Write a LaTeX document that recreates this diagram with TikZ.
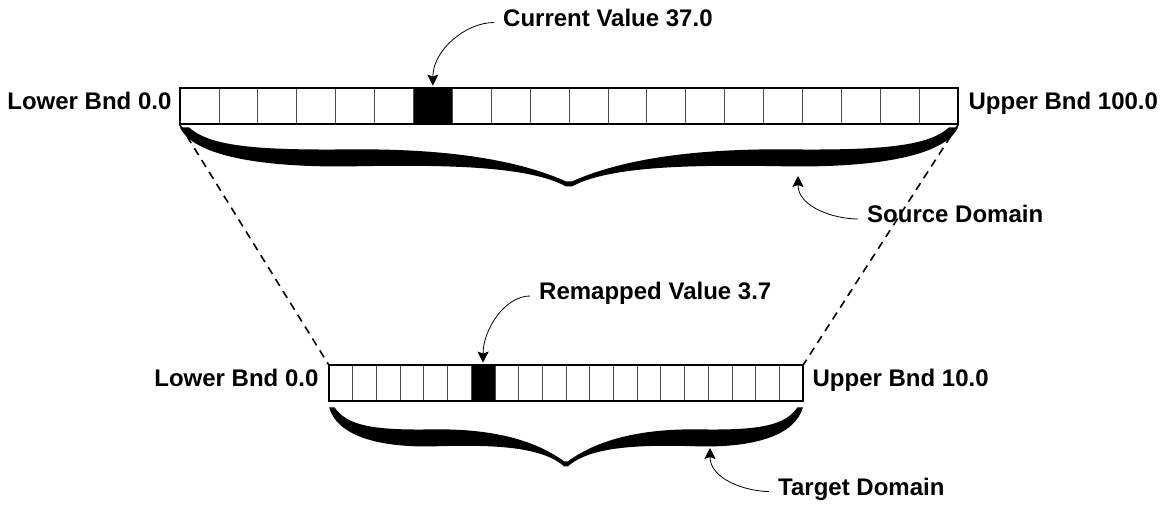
\documentclass[tikz,border=0pt]{standalone}
\usepackage{fontspec}
\setmainfont{Liberation Sans}
\usetikzlibrary{arrows.meta,positioning,calc}

\tikzset{
  cell/.style={draw=black!70, line width=0.8pt, fill=white,
    minimum height=36pt, inner sep=0pt},
  frame/.style={line width=2pt},
  lbl/.style={font=\bfseries\fontsize{24}{28}\selectfont, inner sep=0pt,
    text height=0.72em, text depth=0pt},
  note/.style={-{Stealth[length=11pt,width=11pt,inset=2pt]}, line width=0.8pt,
    shorten <=9pt},
  guide/.style={dashed, dash pattern=on 8pt off 6pt, line width=1.6pt},
  % thick curly brace, drawn for a half width of 389
  fatbrace/.pic={
    \fill (-389,-3) -- (-380,-3)
      .. controls (-360,-21) and (-318,-26) .. (-220,-25)
      .. controls (-120,-24) and (-50,-36) .. (-3,-57) -- (3,-57)
      .. controls (50,-36) and (120,-24) .. (220,-25)
      .. controls (318,-26) and (360,-21) .. (380,-3) -- (389,-3)
      .. controls (376,-31) and (310,-43) .. (220,-42)
      .. controls (120,-40) and (40,-42) .. (3,-62) -- (-3,-62)
      .. controls (-40,-42) and (-120,-40) .. (-220,-42)
      .. controls (-310,-43) and (-376,-31) .. (-389,-3) -- cycle;
  }
}

\begin{document}
\begin{tikzpicture}[x=1pt,y=1pt]
  \useasboundingbox (0,0) rectangle (1163,504);

  % source range
  \foreach \i in {0,...,19}{
    \ifnum\i=6 \def\cellfill{black}\else\def\cellfill{white}\fi
    \node[cell, minimum width=38.9pt, fill=\cellfill] (s\i) at ({180+38.9*(\i+0.5)},398) {};
  }
  \draw[frame] (s0.north west) rectangle (s19.south east);

  % target range
  \foreach \i in {0,...,19}{
    \ifnum\i=6 \def\cellfill{black}\else\def\cellfill{white}\fi
    \node[cell, minimum width=23.7pt, fill=\cellfill] (t\i) at ({329+23.7*(\i+0.5)},121) {};
  }
  \draw[frame] (t0.north west) rectangle (t19.south east);

  % bounds
  \node[lbl, left=8pt of s0] (slo) {Lower Bnd 0.0};
  \node[lbl, right=10pt of s19] (shi) {Upper Bnd 100.0};
  \node[lbl, left=10pt of t0] (tlo) {Lower Bnd 0.0};
  \node[lbl, right=9pt of t19] (thi) {Upper Bnd 10.0};

  % braces under the ranges
  \pic at ($(s0.south west)!0.5!(s19.south east)$) {fatbrace};
  \pic[xscale=0.609] at ($(t0.south west)!0.5!(t19.south east)+(0,-3)$) {fatbrace};

  \draw[guide] (s0.south west) -- (t0.north west);
  \draw[guide] (s19.south east) -- (t19.north east);

  % callouts
  \node[lbl, anchor=west] (cur) at (503,481.5) {Current Value 37.0};
  \node[lbl, anchor=west] (rem) at (539,208) {Remapped Value 3.7};
  \node[lbl, anchor=west] (src) at (867,285) {Source Domain};
  \node[lbl, anchor=west] (tgt) at (778,12.5) {Target Domain};
  \coordinate (srcpt) at (798,328);
  \coordinate (tgtpt) at (710,56);

  \draw[note, shorten >=2pt] (cur.west) to[out=180, in=90] (s6.north);
  \draw[note, shorten >=2pt] (rem.west) to[out=180, in=90] (t6.north);
  \draw[note] (src.west) to[out=180, in=-90] (srcpt);
  \draw[note] (tgt.west) to[out=180, in=-90] (tgtpt);
\end{tikzpicture}
\end{document}
